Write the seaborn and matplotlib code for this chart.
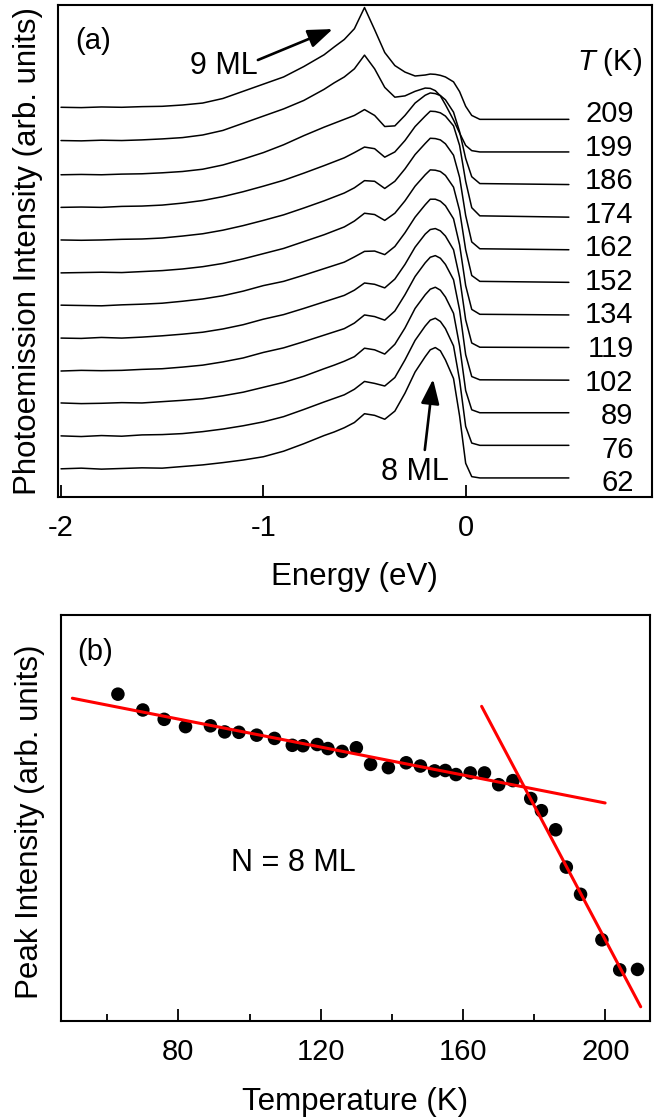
import matplotlib
matplotlib.use("Agg")
import matplotlib.pyplot as plt
from matplotlib.ticker import FixedLocator
import seaborn as sns
import pandas as pd

# ---- panel (a): photoemission spectra, height above each curve's own baseline
energy = [-2.0, -1.9, -1.8, -1.7, -1.6, -1.5, -1.4, -1.3, -1.2, -1.1, -1.0, -0.9,
          -0.8, -0.7, -0.65, -0.6, -0.55, -0.5, -0.45, -0.4, -0.35, -0.3, -0.25,
          -0.2, -0.175, -0.15, -0.125, -0.1, -0.06, -0.03, 0.0, 0.03, 0.07, 0.51]

temps_a = [62, 76, 89, 102, 119, 134, 152, 162, 174, 186, 199, 209]

spec_62 = [0.28, 0.30, 0.27, 0.29, 0.31, 0.30, 0.35, 0.40, 0.47, 0.55, 0.65, 0.82, 1.05, 1.30, 1.41, 1.54,
           1.70, 1.97, 1.92, 1.80, 2.05, 2.60, 3.25, 3.72, 3.93, 4.00, 3.90, 3.62, 3.05, 1.90, 0.45, 0.04, 0.00, 0.00]
spec_76 = [0.29, 0.27, 0.30, 0.28, 0.32, 0.33, 0.36, 0.42, 0.50, 0.60, 0.72, 0.88, 1.10, 1.33, 1.44, 1.55,
           1.72, 1.96, 1.90, 1.82, 2.08, 2.62, 3.22, 3.66, 3.84, 3.90, 3.80, 3.58, 3.05, 2.00, 0.58, 0.07, 0.00, 0.00]
spec_89 = [0.30, 0.28, 0.29, 0.31, 0.30, 0.34, 0.38, 0.43, 0.52, 0.63, 0.78, 0.93, 1.12, 1.35, 1.46, 1.58,
           1.72, 1.98, 1.93, 1.80, 2.10, 2.60, 3.20, 3.62, 3.79, 3.85, 3.76, 3.55, 3.05, 2.05, 0.68, 0.09, 0.00, 0.00]
spec_102 = [0.28, 0.30, 0.29, 0.30, 0.33, 0.35, 0.40, 0.46, 0.56, 0.68, 0.85, 0.99, 1.18, 1.38, 1.48, 1.58,
            1.75, 2.00, 1.95, 1.84, 2.12, 2.62, 3.18, 3.60, 3.77, 3.82, 3.74, 3.55, 3.08, 2.15, 0.78, 0.11, 0.01, 0.00]
spec_119 = [0.29, 0.28, 0.31, 0.29, 0.32, 0.36, 0.41, 0.47, 0.57, 0.70, 0.87, 1.01, 1.20, 1.40, 1.50, 1.60,
            1.76, 1.98, 1.94, 1.83, 2.10, 2.55, 3.08, 3.48, 3.62, 3.65, 3.58, 3.42, 3.00, 2.15, 0.85, 0.14, 0.01, 0.00]
spec_134 = [0.30, 0.29, 0.28, 0.31, 0.33, 0.36, 0.42, 0.49, 0.59, 0.73, 0.90, 1.03, 1.22, 1.42, 1.52, 1.62,
            1.78, 1.95, 1.96, 1.85, 2.10, 2.52, 3.00, 3.38, 3.55, 3.55, 3.49, 3.35, 2.95, 2.15, 0.90, 0.17, 0.02, 0.00]
spec_152 = [0.29, 0.30, 0.31, 0.30, 0.33, 0.36, 0.41, 0.48, 0.58, 0.72, 0.88, 1.04, 1.25, 1.46, 1.58, 1.70,
            1.88, 2.12, 2.08, 1.90, 2.12, 2.50, 2.95, 3.30, 3.45, 3.44, 3.40, 3.28, 2.92, 2.20, 1.00, 0.21, 0.03, 0.00]
spec_162 = [0.30, 0.29, 0.30, 0.32, 0.33, 0.36, 0.42, 0.49, 0.60, 0.74, 0.90, 1.07, 1.28, 1.50, 1.62, 1.74,
            1.90, 2.12, 2.10, 1.88, 2.10, 2.48, 2.92, 3.26, 3.42, 3.41, 3.37, 3.25, 2.90, 2.22, 1.05, 0.24, 0.03, 0.00]
spec_174 = [0.30, 0.31, 0.30, 0.33, 0.34, 0.37, 0.43, 0.51, 0.63, 0.78, 0.95, 1.13, 1.35, 1.58, 1.70, 1.82,
            1.98, 2.15, 2.10, 1.84, 2.00, 2.35, 2.78, 3.10, 3.25, 3.24, 3.20, 3.10, 2.80, 2.20, 1.10, 0.29, 0.04, 0.00]
spec_186 = [0.30, 0.31, 0.30, 0.32, 0.33, 0.36, 0.40, 0.47, 0.60, 0.78, 0.98, 1.22, 1.50, 1.76, 1.88, 2.00,
            2.12, 2.30, 2.12, 1.78, 1.80, 2.12, 2.50, 2.74, 2.81, 2.79, 2.73, 2.60, 2.22, 1.62, 0.80, 0.24, 0.03, 0.00]
spec_199 = [0.35, 0.34, 0.36, 0.35, 0.37, 0.40, 0.44, 0.52, 0.66, 0.88, 1.10, 1.32, 1.58, 1.92, 2.12, 2.30,
            2.55, 2.97, 2.55, 1.98, 1.68, 1.72, 1.86, 1.96, 1.95, 1.88, 1.72, 1.45, 0.98, 0.58, 0.20, 0.04, 0.00, 0.00]
spec_209 = [0.37, 0.36, 0.38, 0.37, 0.39, 0.40, 0.44, 0.50, 0.64, 0.86, 1.08, 1.30, 1.62, 1.98, 2.22, 2.45,
            2.78, 3.43, 2.75, 2.05, 1.65, 1.45, 1.33, 1.36, 1.39, 1.38, 1.35, 1.30, 1.15, 0.85, 0.40, 0.12, 0.00, 0.00]

spectra = [spec_62, spec_76, spec_89, spec_102, spec_119, spec_134,
           spec_152, spec_162, spec_174, spec_186, spec_199, spec_209]

# ---- panel (b): peak intensity vs temperature
temps_b = [63, 70, 76, 82, 89, 93, 97, 102, 107, 112, 115, 119, 122, 126, 130, 134, 139,
           144, 148, 152, 155, 158, 162, 166, 170, 174, 179, 182, 186, 189, 193, 199, 204, 209]
peak_int = [0.805, 0.766, 0.743, 0.725, 0.727, 0.712, 0.711, 0.704, 0.696, 0.679, 0.678, 0.681,
            0.671, 0.664, 0.673, 0.632, 0.624, 0.636, 0.628, 0.616, 0.617, 0.607, 0.611, 0.611,
            0.582, 0.592, 0.548, 0.518, 0.471, 0.379, 0.312, 0.200, 0.126, 0.127]

fit_low_T = [50.2, 199.9]
fit_low_I = [0.795, 0.537]
fit_high_T = [165.2, 209.9]
fit_high_I = [0.775, 0.035]

rows = []
for k, (t, vals) in enumerate(zip(temps_a, spectra)):
    for e, v in zip(energy, vals):
        rows.append({"T": t, "energy": e, "y": v + k})
spec_df = pd.DataFrame(rows)
peak_df = pd.DataFrame({"T": temps_b, "I": peak_int})

sns.set_style("white")
plt.rcParams["font.family"] = ["Liberation Sans", "DejaVu Sans"]
plt.rcParams["mathtext.fontset"] = "custom"
plt.rcParams["mathtext.it"] = "Liberation Sans:italic"
plt.rcParams["mathtext.rm"] = "Liberation Sans"
plt.rcParams["text.color"] = "black"
plt.rcParams["axes.labelcolor"] = "black"
plt.rcParams["xtick.color"] = "black"
plt.rcParams["ytick.color"] = "black"

fig = plt.figure(figsize=(6.62, 11.2), dpi=100)
ax_a = fig.add_axes([0.0876, 0.5563, 0.8970, 0.4393])
ax_b = fig.add_axes([0.0921, 0.0884, 0.8897, 0.3625])

# (a) spectra
sns.lineplot(data=spec_df, x="energy", y="y", units="T", estimator=None, sort=False,
             color="black", linewidth=1.1, ax=ax_a, legend=False)
ax_a.set_xlim(-2.015, 0.92)
ax_a.set_ylim(-0.583, 14.51)
ax_a.xaxis.set_major_locator(FixedLocator([-2, -1, 0]))
ax_a.set_xticklabels(["-2", "-1", "0"])
ax_a.set_yticks([])

for k, t in enumerate(temps_a):
    ax_a.text(0.83, k + (k - 5.5) * 0.03, str(t), ha="right", va="center", fontsize=21)
ax_a.text(0.711, 12.76, "$T$ (K)", ha="center", va="center", fontsize=21)
ax_a.text(0.029, 0.926, "(a)", transform=ax_a.transAxes, ha="left", va="center", fontsize=21)

arrow = dict(arrowstyle="-|>,head_length=0.75,head_width=0.28", lw=1.9, color="black",
             mutation_scale=20, shrinkA=0, shrinkB=0)
ax_a.text(-1.195, 12.65, "9 ML", ha="center", va="center", fontsize=22)
ax_a.annotate("", xy=(-0.657, 13.77), xytext=(-1.027, 12.82), arrowprops=arrow)
ax_a.text(-0.252, 0.18, "8 ML", ha="center", va="center", fontsize=22)
ax_a.annotate("", xy=(-0.161, 3.03), xytext=(-0.202, 0.86), arrowprops=arrow)

ax_a.set_xlabel("Energy (eV)", fontsize=22.5)
ax_a.set_ylabel("Photoemission Intensity (arb. units)", fontsize=22.5)
ax_a.xaxis.label.set_va("center")
ax_a.yaxis.label.set_va("center")
ax_a.xaxis.set_label_coords(0.5, -0.163)
ax_a.yaxis.set_label_coords(-0.051, 0.5)

# (b) peak intensity
sns.scatterplot(data=peak_df, x="T", y="I", color="black", s=95, edgecolor="none",
                ax=ax_b, zorder=3, legend=False)
ax_b.plot(fit_low_T, fit_low_I, color="#ff0000", lw=2.2, zorder=4)
ax_b.plot(fit_high_T, fit_high_I, color="#ff0000", lw=2.2, zorder=4)
ax_b.set_xlim(47, 212.5)
ax_b.set_ylim(0, 1)
ax_b.xaxis.set_major_locator(FixedLocator([80, 120, 160, 200]))
ax_b.xaxis.set_minor_locator(FixedLocator([60, 100, 140, 180]))
ax_b.set_yticks([])
ax_b.text(0.027, 0.91, "(b)", transform=ax_b.transAxes, ha="left", va="center", fontsize=21)
ax_b.text(0.394, 0.389, "N = 8 ML", transform=ax_b.transAxes, ha="center", va="center", fontsize=22)

ax_b.set_xlabel("Temperature (K)", fontsize=22.5)
ax_b.set_ylabel("Peak Intensity (arb. units)", fontsize=22.5)
ax_b.xaxis.label.set_va("center")
ax_b.yaxis.label.set_va("center")
ax_b.xaxis.set_label_coords(0.5, -0.2)
ax_b.yaxis.set_label_coords(-0.052, 0.49)

for ax in (ax_a, ax_b):
    for sp in ax.spines.values():
        sp.set_linewidth(1.5)
        sp.set_color("black")
    ax.tick_params(axis="x", which="major", direction="in", length=8.5, width=1.3,
                   labelsize=21, pad=12, top=False, bottom=True)
    ax.tick_params(axis="x", which="minor", direction="in", length=5, width=1.3, bottom=True)

fig.savefig("out.png", dpi=100)
